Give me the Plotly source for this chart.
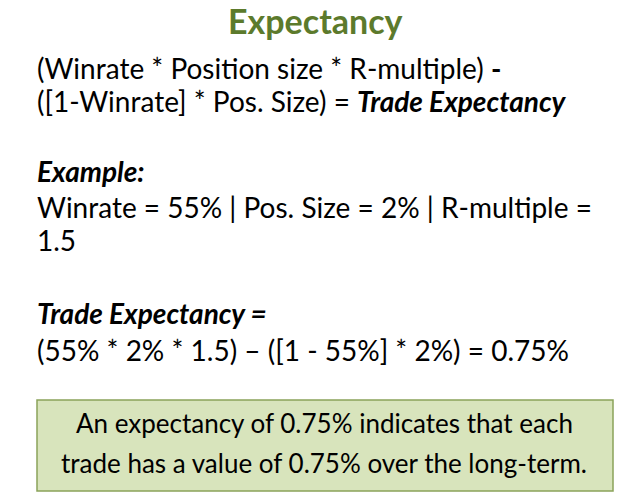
import plotly.graph_objects as go

winrate = 55
pos_size = 2
r_multiple = 1.5
expectancy = 0.75

title = "Expectancy"
lines = [
    (68, "(Winrate * Position size * R-multiple) <b>-</b>"),
    (101, "([1-Winrate] * Pos. Size) = <b><i>Trade Expectancy</i></b>"),
    (171, "<b><i>Example:</i></b>"),
    (207, f"Winrate = {winrate}% | Pos. Size = {pos_size}% | R-multiple ="),
    (240, f"{r_multiple}"),
    (313, "<b><i>Trade Expectancy =</i></b>"),
    (350, f"({winrate}% * {pos_size}% * {r_multiple}) – ([1 - {winrate}%] * {pos_size}%) = {expectancy}%"),
]
box_lines = [
    (423, f"An expectancy of {expectancy}% indicates that each"),
    (463, f"trade has a value of {expectancy}% over the long-term."),
]

FONT = "Lato"
DX, DY = -7, -8
fig = go.Figure()
fig.add_shape(type="rect", x0=36 + DX, x1=612 + DX, y0=400 + DY, y1=491 + DY,
              fillcolor="#d8e4bc", line=dict(color="#8aa35a", width=1.5), layer="below")
ann = [dict(x=314 + DX, y=20 + DY, text=f"<b>{title}</b>", showarrow=False, xanchor="center", yanchor="middle",
            font=dict(family=FONT, size=34, color="#5c7a2c"))]
for y, t in lines:
    ann.append(dict(x=34 + DX, y=y + DY, text=t, showarrow=False, xanchor="left", yanchor="middle",
                    font=dict(family=FONT, size=28, color="black")))
for y, t in box_lines:
    ann.append(dict(x=323 + DX, y=y + DY, text=t, showarrow=False, xanchor="center", yanchor="middle",
                    font=dict(family=FONT, size=26, color="black")))
fig.update_layout(width=627, height=502, margin=dict(l=0, r=0, t=0, b=0),
                  paper_bgcolor="white", plot_bgcolor="white", annotations=ann,
                  xaxis=dict(range=[0, 627], visible=False, fixedrange=True),
                  yaxis=dict(range=[502, 0], visible=False, fixedrange=True),
                  showlegend=False)
fig.write_html("out.html")
